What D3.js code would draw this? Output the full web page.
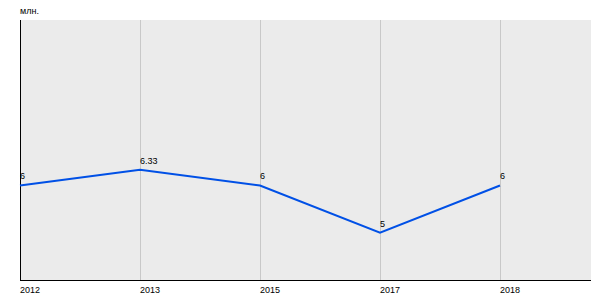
<!DOCTYPE html>
<html>
<head>
<meta charset="utf-8">
<script src="https://cdn.jsdelivr.net/npm/d3@7"></script>
<style>
  body { margin: 0; background: #fff; }
  text { font-family: "Liberation Sans", Arial, sans-serif; font-size: 9px; fill: #000; }
</style>
</head>
<body>
<script>
// data
const years = ['2012', '2013', '2015', '2017', '2018'];
const values = [6, 6.33, 6, 5, 6];
const unit = 'млн.';

const svg = d3.select('body').append('svg')
    .attr('width', 600)
    .attr('height', 300)

const marginLeft = 20, marginTop = 20, plotW = 571, plotH = 260;

const x = d3.scalePoint()
    .domain(years)
    .range([marginLeft, marginLeft + 480])

const y = d3.scaleLinear()
    .domain([4, 9.5])
    .range([marginTop + plotH, marginTop])

svg.append('rect')
    .attr('x', marginLeft)
    .attr('y', marginTop)
    .attr('width', plotW)
    .attr('height', plotH)
    .attr('fill', '#ebebeb')

// vertical grid
svg.selectAll('.grid')
    .data(years.slice(1))
    .enter()
    .append('line')
    .attr('x1', d => x(d) + 0.5)
    .attr('x2', d => x(d) + 0.5)
    .attr('y1', marginTop)
    .attr('y2', marginTop + plotH)
    .attr('stroke', '#c8c8c8')

// axes lines
svg.append('line')
    .attr('x1', marginLeft + 0.5).attr('x2', marginLeft + 0.5)
    .attr('y1', marginTop).attr('y2', marginTop + plotH)
    .attr('stroke', '#000')
svg.append('line')
    .attr('x1', marginLeft).attr('x2', marginLeft + plotW)
    .attr('y1', marginTop + plotH + 0.5).attr('y2', marginTop + plotH + 0.5)
    .attr('stroke', '#000')

svg.append('text')
    .attr('x', marginLeft)
    .attr('y', 14)
    .text(unit)

svg.selectAll('.xlabel')
    .data(years)
    .enter()
    .append('text')
    .attr('x', d => x(d))
    .attr('y', 293)
    .text(d => d)

const points = years.map((yr, i) => ({ year: yr, value: values[i] }));

const line = d3.line()
    .x(d => x(d.year))
    .y(d => y(d.value))

svg.append('path')
    .datum(points)
    .attr('d', line)
    .attr('fill', 'none')
    .attr('stroke', '#0050e6')
    .attr('stroke-width', 2)

svg.selectAll('.vlabel')
    .data(points)
    .enter()
    .append('text')
    .attr('x', d => x(d.year))
    .attr('y', d => y(d.value) - 6)
    .text(d => d.value)
</script>
</body>
</html>
